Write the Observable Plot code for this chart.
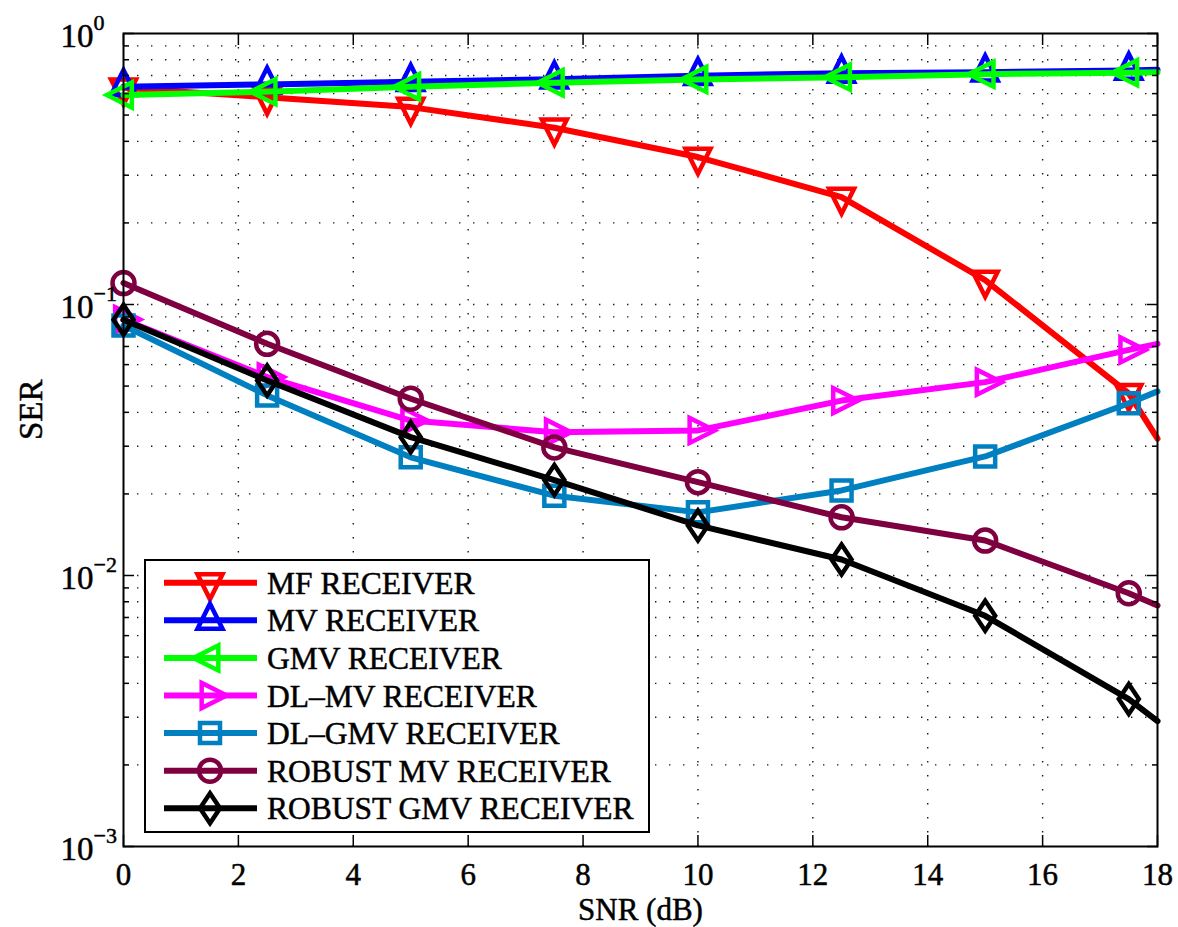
<!DOCTYPE html>
<html><head><meta charset="utf-8">
<script src="https://cdn.jsdelivr.net/npm/d3@7"></script>
<script src="https://cdn.jsdelivr.net/npm/@observablehq/plot@0.6"></script>
<style>
body{margin:0;background:#fff;}
#wrap{position:relative;width:1178px;height:927px;}
</style></head><body><div id="wrap"></div>
<script>
// ---- data ----
const snr = [0, 2.5, 5, 7.5, 10, 12.5, 15, 17.5, 18];
const mf    = [0.63, 0.582, 0.535, 0.449, 0.35, 0.249, 0.123, 0.047, 0.032];
const mv    = [0.636, 0.649, 0.664, 0.678, 0.699, 0.713, 0.72, 0.73, 0.735];
const gmv   = [0.593, 0.61, 0.636, 0.658, 0.677, 0.69, 0.708, 0.717, 0.72];
const dlmv  = [0.088, 0.054, 0.0373, 0.0338, 0.0343, 0.0442, 0.0517, 0.068, 0.0716];
const dlgmv = [0.0837, 0.0462, 0.0273, 0.0197, 0.0171, 0.0206, 0.0275, 0.0432, 0.0478];
const rmv   = [0.12, 0.0716, 0.0449, 0.0297, 0.0221, 0.0164, 0.01346, 0.0086, 0.00775];
const rgmv  = [0.0878, 0.0524, 0.0324, 0.0225, 0.0153, 0.01146, 0.0071, 0.0035, 0.0029];

const seriesNames = ["MF RECEIVER","MV RECEIVER","GMV RECEIVER","DL\u2013MV RECEIVER","DL\u2013GMV RECEIVER","ROBUST MV RECEIVER","ROBUST GMV RECEIVER"];
const seriesValues = [mf, mv, gmv, dlmv, dlgmv, rmv, rgmv];
const seriesColors = ["#ff0000","#0000ff","#00ff00","#ff00ff","#0080c0","#7e0040","#000000"];
const seriesMarkers = ["down","up","left","right","square","circle","diamond"];
const markerR = {down:12.5, up:12.5, left:12.5, right:12.5, square:10, circle:11, diamond:10};

const xTicks = [0,2,4,6,8,10,12,14,16,18];
const yMajor = [0.001, 0.01, 0.1, 1];
const yExp = ["\u22123","\u22122","\u22121","0"];
const yMinor = [0.002,0.003,0.004,0.005,0.006,0.007,0.008,0.009,
                0.02,0.03,0.04,0.05,0.06,0.07,0.08,0.09,
                0.2,0.3,0.4,0.5,0.6,0.7,0.8,0.9];

// ---- marker shapes ----
function shape(kind){
  return {draw(ctx, size){
    const r = Math.sqrt(size/Math.PI);
    if (kind === "up"){ ctx.moveTo(0,-4*r/3); ctx.lineTo(r,2*r/3); ctx.lineTo(-r,2*r/3); ctx.closePath(); }
    else if (kind === "down"){ ctx.moveTo(0,4*r/3); ctx.lineTo(r,-2*r/3); ctx.lineTo(-r,-2*r/3); ctx.closePath(); }
    else if (kind === "left"){ ctx.moveTo(-4*r/3,0); ctx.lineTo(2*r/3,r); ctx.lineTo(2*r/3,-r); ctx.closePath(); }
    else if (kind === "right"){ ctx.moveTo(4*r/3,0); ctx.lineTo(-2*r/3,r); ctx.lineTo(-2*r/3,-r); ctx.closePath(); }
    else if (kind === "square"){ ctx.moveTo(-r,-r); ctx.lineTo(r,-r); ctx.lineTo(r,r); ctx.lineTo(-r,r); ctx.closePath(); }
    else if (kind === "circle"){ ctx.moveTo(r,0); ctx.arc(0,0,r,0,2*Math.PI); }
    else if (kind === "diamond"){ ctx.moveTo(0,-1.5*r); ctx.lineTo(r,0); ctx.lineTo(0,1.5*r); ctx.lineTo(-r,0); ctx.closePath(); }
  }};
}

const rows = snr.map((s,i)=>({snr:s, i}));
const markerRows = rows.filter(d => d.snr <= 17.5);
const font = "'Liberation Serif', 'Times New Roman', serif";
const dotGrid = {stroke:"#000", strokeOpacity:0.9, strokeWidth:1.4, strokeDasharray:"1.4,12.6"};
const txt = {fill:"#000", stroke:"#000", strokeWidth:0.5};

const seriesMarks = seriesValues.flatMap((vals,k)=>[
  Plot.line(rows, {x:"snr", y:d=>vals[d.i], stroke:seriesColors[k], strokeWidth:6, strokeLinejoin:"round"}),
  Plot.dot(markerRows, {x:"snr", y:d=>vals[d.i], symbol:shape(seriesMarkers[k]), r:markerR[seriesMarkers[k]],
    stroke:seriesColors[k], strokeWidth:4.5, fill:"none"})
]);

const chart = Plot.plot({
  width:1178, height:927,
  marginLeft:123, marginRight:21, marginTop:33, marginBottom:81,
  style:{fontFamily:font, background:"white", overflow:"visible"},
  x:{domain:[0,18], axis:null},
  y:{type:"log", domain:[0.001,1], axis:null},
  marks:[
    Plot.gridX(xTicks.slice(1,-1), dotGrid),
    Plot.gridY([...yMinor, 0.01, 0.1], dotGrid),
    ...seriesMarks,
    Plot.axisX(xTicks, {anchor:"bottom", tickSize:-11, fill:"none", label:null, strokeWidth:1.5}),
    Plot.axisX(xTicks, {anchor:"top", tickSize:-11, fill:"none", label:null, strokeWidth:1.5}),
    Plot.axisY(yMajor, {anchor:"left", tickSize:-11, fill:"none", label:null, strokeWidth:1.5}),
    Plot.axisY(yMinor, {anchor:"left", tickSize:-6, fill:"none", label:null, strokeWidth:1.5}),
    Plot.axisY(yMajor, {anchor:"right", tickSize:-11, fill:"none", label:null, strokeWidth:1.5}),
    Plot.axisY(yMinor, {anchor:"right", tickSize:-6, fill:"none", label:null, strokeWidth:1.5}),
    Plot.frame({stroke:"#000", strokeWidth:2}),
    Plot.text(xTicks, {x:d=>d, frameAnchor:"bottom", dy:29, lineAnchor:"middle", fontSize:31, ...txt}),
    Plot.text(yMajor, {y:d=>d, text:()=>"10", frameAnchor:"left", dx:-30, dy:3, textAnchor:"end", lineAnchor:"middle", fontSize:33, ...txt}),
    Plot.text(yMajor, {y:d=>d, text:(d,i)=>yExp[i], frameAnchor:"left", dx:-30, dy:-11, textAnchor:"start", lineAnchor:"middle", fontSize:22, ...txt}),
    Plot.text(["SER"], {text:d=>d, frameAnchor:"left", dx:-92, rotate:-90, lineAnchor:"middle", fontSize:33, ...txt}),
    Plot.text(["SNR (dB)"], {text:d=>d, frameAnchor:"bottom", dy:64, lineAnchor:"middle", fontSize:31, ...txt})
  ]
});
document.getElementById("wrap").appendChild(chart);

// ---- legend ----
const leg = d3.select("#wrap").append("svg")
  .attr("width",507).attr("height",275)
  .style("position","absolute").style("left","144px").style("top","559px");
leg.append("rect").attr("x",1).attr("y",1).attr("width",504).attr("height",272)
  .attr("fill","white").attr("stroke","#000").attr("stroke-width",2);
seriesNames.forEach((name,k)=>{
  const cy = 23.7 + k*37.6;
  const g = leg.append("g");
  g.append("line").attr("x1",20).attr("x2",113).attr("y1",cy).attr("y2",cy)
    .attr("stroke",seriesColors[k]).attr("stroke-width",6);
  const rr = markerR[seriesMarkers[k]];
  g.append("path").attr("transform",`translate(66,${cy})`)
    .attr("d", d3.symbol(shape(seriesMarkers[k]), Math.PI*rr*rr)())
    .attr("fill","none").attr("stroke",seriesColors[k]).attr("stroke-width",4.5);
  g.append("text").attr("x",123).attr("y",cy).attr("dy","0.35em")
    .attr("font-family",font).attr("font-size",31.5).attr("fill","#000")
    .attr("stroke","#000").attr("stroke-width",0.5).text(name);
});
</script></body></html>
